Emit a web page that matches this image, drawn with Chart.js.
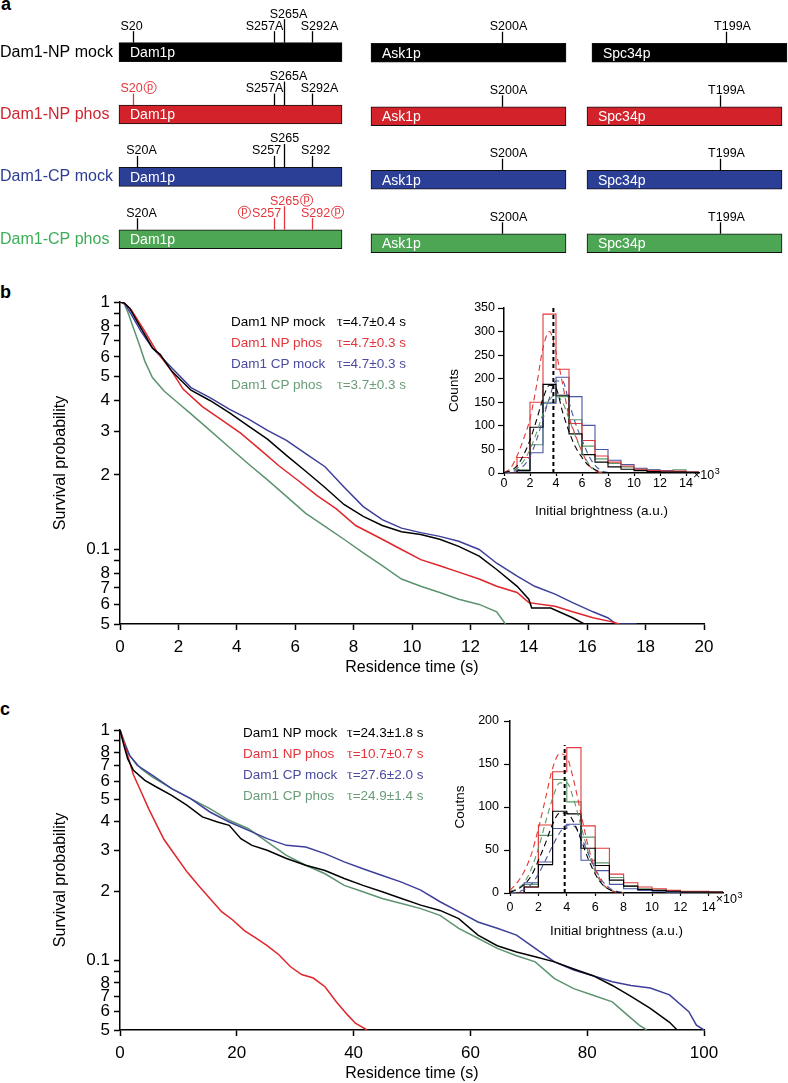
<!DOCTYPE html>
<html>
<head>
<meta charset="utf-8">
<script src="https://cdn.jsdelivr.net/npm/chart.js@4.4.1/dist/chart.umd.min.js"></script>
<style>
  html, body { margin: 0; padding: 0; background: #fff; }
  #page { position: relative; width: 788px; height: 1083px; overflow: hidden;
          font-family: "Liberation Sans", Arial, Helvetica, sans-serif; }
  canvas { position: absolute; }
  .pl { position: absolute; font-weight: bold; font-size: 18px; line-height: 18px; }
  .leg { position: absolute; font-size: 13.5px; white-space: nowrap; }
  .leg div { height: 21px; line-height: 21px; }
  .leg .nm { display: inline-block; }
  .tau { font-family: "Liberation Serif", "DejaVu Serif", serif; font-size: 14px; }
</style>
</head>
<body>
<div id="page">
  <div class="pl" style="left:1px;top:-5px">a</div>
  <div class="pl" style="left:0;top:283px">b</div>
  <div class="pl" style="left:0;top:700px">c</div>

  <canvas id="aDam1" width="350" height="280" style="left:0;top:0"></canvas>
  <canvas id="aAsk1" width="215" height="280" style="left:360px;top:0"></canvas>
  <canvas id="aSpc34" width="213" height="280" style="left:575px;top:0"></canvas>

  <canvas id="bMain" width="788" height="410" style="left:0;top:280px"></canvas>
  <canvas id="bInset" width="310" height="240" style="left:430px;top:290px"></canvas>
  <canvas id="cMain" width="788" height="378" style="left:0;top:705px"></canvas>
  <canvas id="cInset" width="330" height="240" style="left:430px;top:705px"></canvas>

  <div class="leg" id="bLeg" style="left:231px;top:311px"></div>
  <div class="leg" id="cLeg" style="left:243px;top:722px"></div>
</div>

<script>
// ---------- panel a: construct schematics ----------
const ROWS = ['Dam1-NP mock', 'Dam1-NP phos', 'Dam1-CP mock', 'Dam1-CP phos'];
const DAM1_LEN = 343;
const ASK1_LEN = 292;
const SPC34_LEN = 295;
// bar spans per row, residues (as drawn)
const DAM1_SPANS = [[0, 343], [0, 343], [0, 343], [0, 343]];
const ASK1_SPANS = [[0, 292], [0, 292], [0, 292], [0, 292]];
const SPC34_SPANS = [[7.5, 302.5], [0, 295], [0, 295], [0, 295]];
// sites per row: [drawn position, label, phospho mark side]
const DAM1_SITES = [
  [[21.5, 'S20', ''], [238, 'S257A', ''], [254, 'S265A', ''], [297, 'S292A', '']],
  [[21.5, 'S20', 'after'], [238, 'S257A', ''], [254, 'S265A', ''], [297, 'S292A', '']],
  [[27.7, 'S20A', ''], [238, 'S257', ''], [254, 'S265', ''], [297, 'S292', '']],
  [[27.7, 'S20A', ''], [238, 'S257', 'before'], [254, 'S265', 'after'], [297, 'S292', 'after']]
];
const ASK1_SITES = [
  [[196, 'S200A', '']], [[196, 'S200A', '']], [[196, 'S200A', '']], [[196, 'S200A', '']]
];
const SPC34_SITES = [
  [[210, 'T199A', '']], [[201, 'T199A', '']], [[201, 'T199A', '']], [[201, 'T199A', '']]
];

// ---------- panel b: survival (short residence) ----------
const B_NP_MOCK_T = [0, 0.15, 0.33, 0.59, 0.85, 1.11, 1.38, 1.77, 2.43, 3.08, 3.74, 4.39, 5.05, 5.70, 6.36, 7.02, 7.67, 8.33, 8.98, 9.64, 10.3, 10.95, 11.6, 12.3, 12.9, 13.6, 14.0, 14.1, 14.75, 15.5, 15.9];
const B_NP_MOCK_S = [1, 0.99, 0.944, 0.834, 0.738, 0.652, 0.613, 0.526, 0.44, 0.40, 0.357, 0.316, 0.279, 0.24, 0.207, 0.178, 0.152, 0.136, 0.125, 0.118, 0.115, 0.110, 0.103, 0.094, 0.083, 0.071, 0.063, 0.058, 0.058, 0.053, 0.05];
const B_NP_PHOS_T = [0, 0.15, 0.39, 0.85, 1.25, 1.77, 2.16, 2.82, 3.48, 4.13, 4.79, 5.44, 6.10, 6.75, 7.41, 8.07, 8.98, 9.64, 10.3, 10.95, 11.6, 12.3, 12.9, 13.6, 14.0, 14.9, 15.5, 16.2, 16.85, 17.1];
const B_NP_PHOS_S = [1, 0.99, 0.929, 0.761, 0.633, 0.526, 0.445, 0.378, 0.334, 0.295, 0.254, 0.218, 0.19, 0.165, 0.146, 0.125, 0.110, 0.100, 0.091, 0.086, 0.081, 0.076, 0.071, 0.067, 0.061, 0.059, 0.056, 0.053, 0.051, 0.05];
const B_CP_MOCK_T = [0, 0.15, 0.33, 0.72, 1.11, 1.77, 2.43, 3.08, 3.74, 4.39, 5.05, 5.70, 6.36, 7.02, 7.67, 8.33, 8.98, 9.64, 10.3, 10.95, 11.6, 12.3, 12.9, 13.6, 14.2, 14.9, 15.5, 16.2, 16.7, 17.0, 17.7];
const B_CP_MOCK_S = [1, 0.99, 0.915, 0.761, 0.652, 0.542, 0.451, 0.411, 0.369, 0.337, 0.303, 0.276, 0.244, 0.216, 0.179, 0.149, 0.132, 0.122, 0.117, 0.113, 0.108, 0.100, 0.088, 0.078, 0.071, 0.066, 0.061, 0.056, 0.053, 0.05, 0.05];
const B_CP_PHOS_T = [0, 0.15, 0.26, 0.46, 0.66, 0.85, 1.11, 1.51, 1.90, 2.43, 3.08, 3.74, 4.39, 5.05, 5.70, 6.36, 7.02, 7.67, 8.33, 8.98, 9.64, 10.3, 10.95, 11.6, 12.3, 12.9, 13.2];
const B_CP_PHOS_S = [1, 0.98, 0.915, 0.785, 0.673, 0.577, 0.495, 0.437, 0.399, 0.353, 0.303, 0.259, 0.222, 0.191, 0.164, 0.140, 0.124, 0.110, 0.097, 0.086, 0.076, 0.071, 0.067, 0.063, 0.060, 0.056, 0.05];
const B_TAU = ['4.7±0.4', '4.7±0.3', '4.7±0.3', '3.7±0.3'];

// ---------- panel c: survival (long residence) ----------
const C_NP_MOCK_T = [0, 0.66, 1.31, 2.30, 4.26, 6.23, 8.85, 11.5, 14.1, 16.7, 18.7, 20.7, 22.6, 25.2, 28.5, 31.8, 35.1, 38.4, 41.6, 44.9, 48.2, 51.5, 54.8, 58.0, 61.3, 64.6, 67.9, 71.1, 74.4, 77.7, 81.0, 84.3, 87.5, 90.8, 94.1, 95.4];
const C_NP_MOCK_S = [1, 0.858, 0.751, 0.668, 0.605, 0.566, 0.521, 0.471, 0.420, 0.399, 0.386, 0.338, 0.316, 0.301, 0.277, 0.259, 0.246, 0.227, 0.212, 0.199, 0.186, 0.174, 0.165, 0.152, 0.129, 0.116, 0.109, 0.104, 0.0987, 0.092, 0.086, 0.078, 0.070, 0.062, 0.054, 0.05];
const C_NP_PHOS_T = [0, 0.66, 1.31, 2.30, 3.61, 4.92, 6.23, 7.54, 9.51, 11.5, 13.4, 15.4, 17.4, 19.3, 21.3, 23.3, 25.2, 27.2, 29.2, 31.1, 33.1, 35.1, 37.1, 39.0, 40.3, 42.3];
const C_NP_PHOS_S = [1, 0.887, 0.776, 0.64, 0.54, 0.455, 0.39, 0.335, 0.285, 0.242, 0.212, 0.186, 0.163, 0.150, 0.135, 0.125, 0.116, 0.106, 0.094, 0.087, 0.084, 0.077, 0.066, 0.058, 0.0535, 0.05];
const C_CP_MOCK_T = [0, 0.66, 1.64, 2.95, 5.57, 8.85, 12.1, 15.4, 18.7, 22.0, 25.2, 28.5, 31.8, 35.1, 38.4, 41.6, 44.9, 48.2, 51.5, 54.8, 58.0, 61.3, 64.6, 67.9, 71.1, 74.4, 77.7, 81.0, 84.3, 87.5, 90.8, 94.1, 97.4, 98.7, 100];
const C_CP_MOCK_S = [1, 0.887, 0.776, 0.703, 0.636, 0.557, 0.504, 0.441, 0.399, 0.367, 0.338, 0.316, 0.311, 0.291, 0.268, 0.250, 0.234, 0.219, 0.202, 0.180, 0.163, 0.147, 0.138, 0.129, 0.113, 0.0987, 0.091, 0.086, 0.081, 0.078, 0.076, 0.071, 0.060, 0.0525, 0.05];
const C_CP_PHOS_T = [0, 0.66, 1.64, 3.61, 5.57, 8.85, 12.1, 15.4, 18.7, 22.0, 25.2, 28.5, 31.8, 35.1, 38.4, 41.6, 44.9, 48.2, 51.5, 54.8, 58.0, 61.3, 64.6, 67.9, 71.1, 74.4, 77.7, 81.0, 84.3, 86.9, 88.9, 90.2];
const C_CP_PHOS_S = [1, 0.902, 0.776, 0.680, 0.625, 0.557, 0.504, 0.456, 0.406, 0.373, 0.327, 0.286, 0.259, 0.238, 0.212, 0.199, 0.186, 0.177, 0.168, 0.157, 0.138, 0.125, 0.113, 0.105, 0.0987, 0.0835, 0.0756, 0.0708, 0.0662, 0.058, 0.0525, 0.05];
const C_TAU = ['24.3±1.8', '10.7±0.7', '27.6±2.0', '24.9±1.4'];

const LEGEND_NAMES = ['Dam1 NP mock', 'Dam1 NP phos', 'Dam1 CP mock', 'Dam1 CP phos'];

// ---------- insets: brightness histograms (x10^3 a.u.) ----------
const HIST_EDGES = [0, 1, 2, 3, 4, 5, 6, 7, 8, 9, 10, 11, 12, 13, 14, 15];
const B_HIST_NP_MOCK = [0, 5, 97, 188, 165, 83, 39, 23, 13, 8, 5, 3, 2, 2, 1];
const B_HIST_NP_PHOS = [0, 33, 150, 337, 220, 105, 69, 36, 23, 15, 8, 5, 4, 4, 2];
const B_HIST_CP_MOCK = [0, 5, 43, 148, 203, 162, 101, 50, 27, 18, 10, 7, 5, 3, 2];
const B_HIST_CP_PHOS = [0, 7, 60, 150, 162, 113, 57, 30, 20, 13, 8, 6, 5, 7, 3];
const C_HIST_NP_MOCK = [0, 7, 33, 95, 92, 52, 32, 15, 8, 4, 3, 2, 1, 1, 1];
const C_HIST_NP_PHOS = [0, 7, 79, 141, 169, 78, 52, 22, 12, 7, 5, 3, 2, 2, 1];
const C_HIST_CP_MOCK = [0, 12, 36, 75, 80, 38, 26, 10, 5, 3, 2, 1, 1, 1, 0];
const C_HIST_CP_PHOS = [0, 10, 67, 132, 106, 65, 35, 18, 8, 5, 3, 2, 1, 1, 1];
// dashed fit curves, read at these brightness values
const FIT_X = [0, 0.5, 1, 1.5, 2, 2.5, 3, 3.5, 4, 4.5, 5, 5.5, 6, 6.5, 7, 7.5, 8];
const B_FIT_NP_MOCK = [1, 5, 15, 38, 70, 112, 158, 186, 180, 130, 88, 55, 33, 16, 7, 2, 1];
const B_FIT_NP_PHOS = [1, 10, 36, 72, 115, 185, 265, 300, 256, 190, 120, 80, 45, 18, 5, 1, 0];
const B_FIT_CP_MOCK = [0, 2, 6, 15, 35, 70, 115, 160, 195, 195, 150, 105, 70, 38, 16, 5, 1];
const B_FIT_CP_PHOS = [1, 3, 10, 25, 50, 85, 125, 155, 165, 150, 115, 78, 45, 20, 7, 2, 0];
const C_FIT_NP_MOCK = [1, 4, 10, 20, 38, 58, 80, 93, 93, 82, 62, 40, 22, 10, 4, 1, 0];
const C_FIT_NP_PHOS = [3, 12, 25, 45, 75, 110, 145, 162, 158, 130, 92, 55, 28, 12, 4, 1, 0];
const C_FIT_CP_MOCK = [0, 1, 4, 10, 22, 38, 55, 70, 79, 78, 65, 46, 28, 14, 6, 2, 1];
const C_FIT_CP_PHOS = [2, 5, 12, 28, 52, 82, 110, 128, 128, 108, 78, 48, 25, 10, 4, 1, 0];
const B_MEAN = 3.8;
const C_MEAN = 3.85;

// tick labels
const LOG_TICKS = [0.05, 0.06, 0.07, 0.08, 0.09, 0.1, 0.2, 0.3, 0.4, 0.5, 0.6, 0.7, 0.8, 0.9, 1];
const LOG_TICK_LABELS = ['5', '6', '7', '8', '', '0.1', '2', '3', '4', '5', '6', '7', '8', '', '1'];
const B_X_TICKS = [0, 2, 4, 6, 8, 10, 12, 14, 16, 18, 20];
const C_X_TICKS = [0, 20, 40, 60, 80, 100];
const INSET_X_TICKS = [0, 2, 4, 6, 8, 10, 12, 14];
const B_INSET_Y_TICKS = [0, 50, 100, 150, 200, 250, 300, 350];
const C_INSET_Y_TICKS = [0, 50, 100, 150, 200];

// colours
const ROW_LABEL_COLORS = ['#000000', '#cf2530', '#2e3d92', '#3dad58'];
const BAR_COLORS = ['#000000', '#d3222a', '#2c3f97', '#4da654'];
const CURVE_COLORS = ['#000000', '#e0252b', '#3d3f9a', '#5c9370'];
const LEGEND_COLORS = ['#000000', '#e2363c', '#4a4c9e', '#6a9c78'];
const HIST_COLORS = ['#000000', '#e23a3a', '#4a56a2', '#5d9a6a'];
const SITE_RED = '#e3363c';

const SANS = '"Liberation Sans", Arial, Helvetica, sans-serif';
Chart.defaults.font.family = SANS;
Chart.defaults.color = '#000';

// label nudges relative to the site line (px)
const LABEL_DX = { S20: -2, S20A: 4, S257A: -10, S265A: 4, S292A: 7, S257: -8, S265: 0, S292: 3, S200A: 6, T199A: 6 };

// site ticks, labels and phospho circles on the schematic bars
const siteMarks = {
  id: 'siteMarks',
  afterDatasetsDraw(chart, args, o) {
    const ctx = chart.ctx, xs = chart.scales.x;
    const bars = chart.getDatasetMeta(0).data;
    ctx.save();
    bars.forEach((bar, r) => {
      const p = bar.getProps(['x', 'y', 'base', 'height'], true);
      const top = p.y - p.height / 2;
      ctx.font = '14px ' + SANS;
      ctx.fillStyle = '#fff';
      ctx.textAlign = 'left';
      ctx.textBaseline = 'middle';
      ctx.fillText(o.name, Math.min(p.x, p.base) + 11, p.y + 1);

      o.sites[r].forEach(([at, label, mark]) => {
        const px = Math.round(xs.getPixelForValue(at)) + 0.5;
        const h = label.startsWith('S265') ? 25 : 13;
        const col = mark ? SITE_RED : '#000';
        ctx.strokeStyle = col;
        ctx.lineWidth = 1.3;
        ctx.beginPath();
        ctx.moveTo(px, top);
        ctx.lineTo(px, top - h + 1.5);
        ctx.stroke();
        ctx.font = '12.5px ' + SANS;
        ctx.fillStyle = col;
        ctx.textAlign = 'center';
        ctx.textBaseline = 'alphabetic';
        const tx = px + (LABEL_DX[label] || 0);
        const ty = top - h;
        ctx.fillText(label, tx, ty);
        if (mark) {
          const w = ctx.measureText(label).width, rr = 6;
          const cx = mark === 'after' ? tx + w / 2 + 1.5 + rr : tx - w / 2 - 1.5 - rr;
          const cy = ty - 4.5;
          ctx.lineWidth = 1;
          ctx.beginPath();
          ctx.arc(cx, cy, rr, 0, Math.PI * 2);
          ctx.stroke();
          ctx.font = '11px ' + SANS;
          ctx.textBaseline = 'middle';
          ctx.fillText('p', cx, cy - 1);
        }
      });
    });
    ctx.restore();
  }
};

function domainChart(id, o) {
  const yAxis = o.showRows ? {
    afterFit: sc => { sc.width = 119; },
    grid: { display: false },
    border: { display: false },
    ticks: { crossAlign: 'far', padding: 0, font: { size: 16 }, color: c => ROW_LABEL_COLORS[c.index] }
  } : { display: false };
  return new Chart(document.getElementById(id), {
    type: 'bar',
    data: {
      labels: ROWS,
      datasets: [{
        data: o.spans,
        backgroundColor: BAR_COLORS,
        borderColor: '#111',
        borderWidth: 1,
        borderSkipped: false,
        barThickness: 19,
        clip: false
      }]
    },
    options: {
      indexAxis: 'y',
      responsive: false,
      animation: false,
      events: [],
      layout: { padding: o.padding },
      plugins: { legend: { display: false }, tooltip: { enabled: false }, siteMarks: { name: o.name, sites: o.sites } },
      scales: {
        x: { type: 'linear', min: 0, max: o.len, display: false },
        y: yAxis
      }
    },
    plugins: [siteMarks]
  });
}

domainChart('aDam1', { name: 'Dam1p', len: DAM1_LEN, spans: DAM1_SPANS, sites: DAM1_SITES, showRows: true,
  padding: { top: 21, bottom: 5, left: 0, right: 8 } });
domainChart('aAsk1', { name: 'Ask1p', len: ASK1_LEN, spans: ASK1_SPANS, sites: ASK1_SITES,
  padding: { top: 21, bottom: 5, left: 11, right: 9 } });
domainChart('aSpc34', { name: 'Spc34p', len: SPC34_LEN, spans: SPC34_SPANS, sites: SPC34_SITES,
  padding: { top: 21, bottom: 5, left: 12, right: 6 } });

// survival curves on a log axis
function survivalChart(id, o) {
  const datasets = o.series.map((s, k) => ({
    data: s[0].map((t, i) => ({ x: t, y: s[1][i] })),
    borderColor: CURVE_COLORS[k],
    borderWidth: 1.5,
    pointRadius: 0,
    tension: 0,
    fill: false
  }));
  const tickGrid = { drawOnChartArea: false, tickLength: 6, tickWidth: 1.5, tickColor: '#000' };
  return new Chart(document.getElementById(id), {
    type: 'line',
    data: { datasets },
    options: {
      responsive: false,
      animation: false,
      events: [],
      layout: { padding: { top: o.top, right: 84, left: 0, bottom: 0 } },
      plugins: { legend: { display: false }, tooltip: { enabled: false } },
      scales: {
        x: {
          type: 'linear', min: 0, max: o.xMax,
          afterBuildTicks: sc => { sc.ticks = o.xTicks.map(v => ({ value: v })); },
          afterFit: sc => { sc.height = o.xAxisH; },
          grid: tickGrid,
          border: { color: '#000', width: 1.5 },
          ticks: { font: { size: 17 }, color: '#000', padding: 7, maxRotation: 0, autoSkip: false },
          title: { display: true, text: 'Residence time (s)', font: { size: 16 }, color: '#000',
                   padding: { top: 0, bottom: o.xTitlePad } }
        },
        y: {
          type: 'logarithmic', min: 0.05, max: 1,
          afterBuildTicks: sc => { sc.ticks = LOG_TICKS.map(v => ({ value: v })); },
          afterFit: sc => { sc.width = 120; },
          grid: tickGrid,
          border: { color: '#000', width: 1.5 },
          ticks: { font: { size: 17 }, color: '#000', padding: 4, autoSkip: false,
                   callback: (v, i) => LOG_TICK_LABELS[i] },
          title: { display: true, text: 'Survival probability', font: { size: 16 }, color: '#000',
                   padding: { top: 51, bottom: 0 } }
        }
      }
    }
  });
}

survivalChart('bMain', {
  series: [[B_NP_MOCK_T, B_NP_MOCK_S], [B_NP_PHOS_T, B_NP_PHOS_S], [B_CP_MOCK_T, B_CP_MOCK_S], [B_CP_PHOS_T, B_CP_PHOS_S]],
  xMax: 20, xTicks: B_X_TICKS, top: 22, xAxisH: 66, xTitlePad: 13
});
survivalChart('cMain', {
  series: [[C_NP_MOCK_T, C_NP_MOCK_S], [C_NP_PHOS_T, C_NP_PHOS_S], [C_CP_MOCK_T, C_CP_MOCK_S], [C_CP_PHOS_T, C_CP_PHOS_S]],
  xMax: 100, xTicks: C_X_TICKS, top: 25, xAxisH: 53, xTitlePad: 0
});

// "x10^3" after the last brightness tick label
const expLabel = {
  id: 'expLabel',
  afterDraw(chart) {
    const sc = chart.scales.x, ctx = chart.ctx;
    const items = sc._labelItems || [];
    const it = items.find(d => d.label === '14');
    if (!it) return;
    const [lx, ly] = it.options.translation;
    ctx.save();
    ctx.font = '12.5px ' + SANS;
    ctx.fillStyle = '#000';
    ctx.textAlign = 'left';
    ctx.textBaseline = it.options.textBaseline || 'top';
    const w = ctx.measureText('14').width;
    const yy = ly + (it.options.textOffset || 0);
    ctx.fillText('×10', lx + w / 2, yy);
    const w2 = ctx.measureText('×10').width;
    ctx.font = '9px ' + SANS;
    ctx.fillText('3', lx + w / 2 + w2 + 0.5, yy - 4);
    ctx.restore();
  }
};

function insetChart(id, o) {
  const ds = [{
    data: [{ x: o.mean, y: 0 }, { x: o.mean, y: o.meanTop }],
    borderColor: '#000', borderWidth: 2, borderDash: [4, 3], pointRadius: 0
  }];
  o.fits.forEach((f, k) => ds.push({
    data: FIT_X.map((x, i) => ({ x, y: f[i] })),
    borderColor: HIST_COLORS[k], borderWidth: 1.1, borderDash: [6, 4], pointRadius: 0,
    cubicInterpolationMode: 'monotone'
  }));
  // outline histogram: each count holds from its left edge to the next edge
  o.hists.forEach((h, k) => ds.push({
    data: HIST_EDGES.map((x, i) => ({ x, y: h[Math.min(i, h.length - 1)] })),
    borderColor: HIST_COLORS[k], borderWidth: 1.1, pointRadius: 0, stepped: 'before'
  }));
  return new Chart(document.getElementById(id), {
    type: 'line',
    data: { datasets: ds },
    options: {
      responsive: false,
      animation: false,
      events: [],
      layout: { padding: { top: o.top, right: o.right, left: 0, bottom: 0 } },
      plugins: { legend: { display: false }, tooltip: { enabled: false } },
      scales: {
        x: {
          type: 'linear', min: 0, max: 15,
          afterBuildTicks: sc => { sc.ticks = INSET_X_TICKS.map(v => ({ value: v })); },
          afterFit: sc => { sc.height = o.xAxisH; },
          grid: { drawOnChartArea: false, tickLength: 3, tickWidth: 1.2, tickColor: '#000' },
          border: { color: '#000', width: 1.5 },
          ticks: { font: { size: 12.5 }, color: '#000', padding: o.xTickPad, maxRotation: 0, autoSkip: false },
          title: { display: true, text: 'Initial brightness (a.u.)', font: { size: 13.5 }, color: '#000',
                   padding: { top: 0, bottom: o.xTitlePad } }
        },
        y: {
          min: 0, max: o.yMax,
          afterBuildTicks: sc => { sc.ticks = o.yTicks.map(v => ({ value: v })); },
          afterFit: sc => { sc.width = o.yAxisW; },
          grid: { drawOnChartArea: false, tickLength: 6, tickWidth: 1.2, tickColor: '#000' },
          border: { color: '#000', width: 1.5 },
          ticks: { font: { size: 12.5 }, color: '#000', padding: o.yTickPad, autoSkip: false },
          title: { display: true, text: o.yTitle, font: { size: 13.5 }, color: '#000',
                   padding: { top: o.yTitlePad, bottom: 0 } }
        }
      }
    },
    plugins: [expLabel]
  });
}

insetChart('bInset', {
  hists: [B_HIST_NP_MOCK, B_HIST_NP_PHOS, B_HIST_CP_MOCK, B_HIST_CP_PHOS],
  fits: [B_FIT_NP_MOCK, B_FIT_NP_PHOS, B_FIT_CP_MOCK, B_FIT_CP_PHOS],
  mean: B_MEAN, meanTop: 350, yMax: 350, yTicks: B_INSET_Y_TICKS, yTitle: 'Counts',
  top: 18, right: 41, xAxisH: 57, yAxisW: 74, xTickPad: 0, yTickPad: 3, xTitlePad: 11, yTitlePad: 16
});
insetChart('cInset', {
  hists: [C_HIST_NP_MOCK, C_HIST_NP_PHOS, C_HIST_CP_MOCK, C_HIST_CP_PHOS],
  fits: [C_FIT_NP_MOCK, C_FIT_NP_PHOS, C_FIT_CP_MOCK, C_FIT_CP_PHOS],
  mean: C_MEAN, meanTop: 172, yMax: 200, yTicks: C_INSET_Y_TICKS, yTitle: 'Coutns',
  top: 16, right: 37, xAxisH: 52, yAxisW: 80, xTickPad: 4, yTickPad: 5, xTitlePad: 6, yTitlePad: 22
});

// text legends with lifetimes
function fillLegend(id, taus, nameW) {
  document.getElementById(id).innerHTML = LEGEND_NAMES.map((n, k) =>
    '<div style="color:' + LEGEND_COLORS[k] + '"><span class="nm" style="width:' + nameW + 'px">' + n +
    '</span><span class="tau">τ</span>=' + taus[k] + ' s</div>').join('');
}
fillLegend('bLeg', B_TAU, 106);
fillLegend('cLeg', C_TAU, 104);
</script>
</body>
</html>
